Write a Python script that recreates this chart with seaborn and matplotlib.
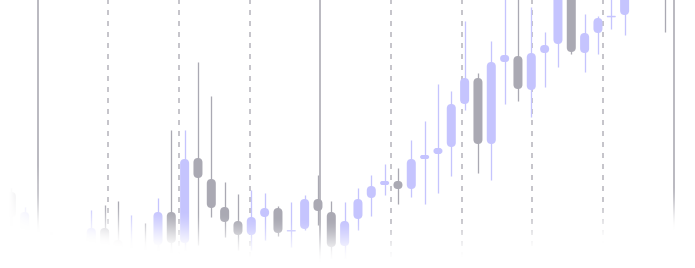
import numpy as np
import matplotlib
matplotlib.use("Agg")
import matplotlib.pyplot as plt
from matplotlib.patches import FancyBboxPatch
import seaborn as sns

sns.set_theme(style="white")

# ---- data (price units, candle index = time) ----
opens  = [76, 28, 36, 10, 24, 8, 21, 40, 28, 6, 18, 23, 56, 25, 110, 89, 61, 47, 33, 51,
          60, 36.5, 39, 69, 56, 22, 49, 70, 83, 87, 79, 109, 114, 121, 164, 190, 124, 206, 212, 178,
          215, 224, 290, 215, 235, 250.7, 253, 275, 292, 300]
highs  = [80, 61, 43, 36, 30, 28, 58, 63, 67, 53, 45, 70, 138, 138, 206, 172, 86, 74, 78, 75,
          62, 66, 73, 93, 67, 66, 80, 93, 104, 100, 128, 147, 184, 177, 247, 195, 227, 275, 280, 261,
          236, 300, 295, 254, 252, 273, 285, 300, 305, 310]
lows   = [43, 18, 6, 3, 2, 2, 10, 10, 4, 2, 2, 12, 13, 18, 23, 51, 31, 18, 18, 28,
          32, 21, 38, 43, 10, 10, 38, 52, 73, 64, 71, 64, 75, 92, 158, 95, 88, 164, 167, 151,
          181, 201, 214, 196, 214, 239, 233, 272, 270, 236]
closes = [51, 56, 16, 28, 8, 20, 40, 20, 12, 18, 6, 56, 25, 109, 90, 60, 46, 33, 51, 60,
          35, 38, 69, 57, 21, 47, 69, 82, 87, 79, 109, 113, 120, 164, 190, 124, 206, 213, 179, 215,
          223, 290, 216, 235, 250, 252.2, 275, 290, 280, 275]
gridlines_dashed = [7.28, 12.58, 17.88, 28.48, 33.78, 39.08, 44.38]
gridlines_solid = [1.98, 23.18, 49.68]

UP = "#c5c4fe"
DOWN = "#aaa9b3"
GRID = "#b4b3bb"

W, H = 695, 268
DPI = 100
X0_PX, STEP_PX = 11.3, 13.333
fig = plt.figure(figsize=(W / DPI, H / DPI), dpi=DPI)
fig.patch.set_facecolor("white")
ax = fig.add_axes([0, 0, 1, 1])
ax.set_facecolor("white")
xlim = (-X0_PX / STEP_PX, (W - X0_PX) / STEP_PX)
ylim = (0, H)
ax.set_xlim(*xlim)
ax.set_ylim(*ylim)
ax.axis("off")

px = 72.0 / DPI  # points per pixel

# gridlines
for gx in gridlines_dashed:
    lw = 1.5 * px
    ln, = ax.plot([gx, gx], [H + 0.7, -5], color=GRID, lw=lw, zorder=1)
    ln.set_dashes([5 * px / lw, 6 * px / lw])
for gx in gridlines_solid:
    ax.plot([gx, gx], [H + 2, -5], color=GRID, lw=1.8 * px, zorder=1,
            solid_capstyle="butt")

# candles
m_aspect = STEP_PX / 1.0
body_w = 9.0 / STEP_PX
for i, (o, h, l, c) in enumerate(zip(opens, highs, lows, closes)):
    col = UP if c >= o else DOWN
    ax.plot([i, i], [l, h], color=col, lw=1.3 * px, zorder=2, solid_capstyle="butt")
    lo, hi = min(o, c), max(o, c)
    bh = max(hi - lo, 1.5)
    r = min(body_w, bh / m_aspect) / 2 * 0.999
    patch = FancyBboxPatch((i - body_w / 2, lo), body_w, bh,
                           boxstyle=f"round,pad=0,rounding_size={r}",
                           mutation_aspect=m_aspect, facecolor=col,
                           edgecolor="none", zorder=3)
    ax.add_patch(patch)

# fade mask (white overlay, elliptical bottom fade + lower-left edge fade)
yy, xx = np.mgrid[0:H, 0:W] + 0.5
y_end = 262 * np.sqrt(np.clip(1 - ((xx - 350) / 671.0) ** 2, 0, 1))
fb = np.clip((yy - (y_end - 45)) / 45.0, 0, 1)
fb = fb * fb * (3 - 2 * fb)
fl = np.clip((45 - xx) / 35.0, 0, 1) * np.clip((yy - 165) / 20.0, 0, 1)
alpha = 1 - (1 - fb) * (1 - fl)
rgba = np.ones((H, W, 4))
rgba[..., 3] = alpha
ax.imshow(rgba, extent=(xlim[0], xlim[1], 0, H), origin="upper", aspect="auto",
          zorder=10, interpolation="bilinear")
ax.set_xlim(*xlim)
ax.set_ylim(*ylim)

fig.savefig("out.png", dpi=DPI, facecolor="white")
